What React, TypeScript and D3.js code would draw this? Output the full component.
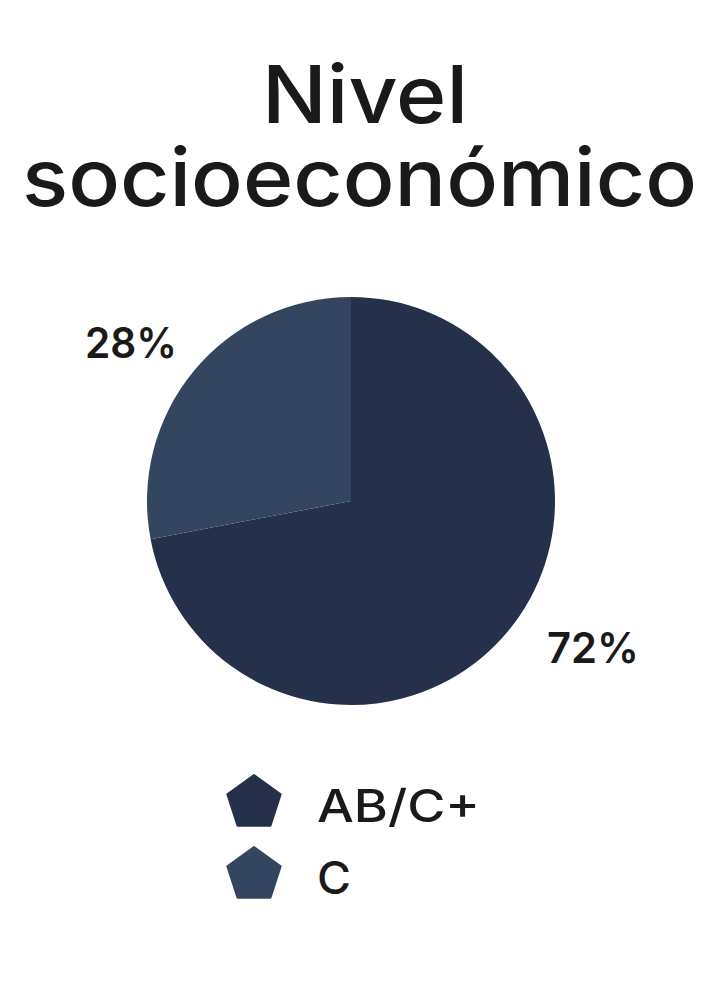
import * as d3 from "d3";
import React, { useEffect, useRef } from "react";

// chart data
const categories = ["AB/C+", "C"];
const shares = [72, 28];
const colors = ["#25314a", "#34465f"];
const titleLines = ["Nivel", "socioeconómico"];

const WIDTH = 719;
const HEIGHT = 992;

const App: React.FC = () => {
    const svgRef = useRef<SVGSVGElement>(null);

    useEffect(() => {
        if (!svgRef.current) return;
        const svg = d3.select(svgRef.current);
        svg.selectAll("*").remove();

        svg.append("rect")
            .attr("width", WIDTH)
            .attr("height", HEIGHT)
            .attr("fill", "#ffffff");

        const font = "Inter, 'Noto Sans', sans-serif";

        // title
        const titleSpec = [
            { x: 365, y: 123, len: 206 },
            { x: 359.5, y: 206, len: 675 },
        ];
        svg.selectAll("text.title")
            .data(titleLines)
            .join("text")
            .attr("class", "title")
            .attr("x", (_, i) => titleSpec[i].x)
            .attr("y", (_, i) => titleSpec[i].y)
            .attr("text-anchor", "middle")
            .attr("font-family", font)
            .attr("font-weight", 500)
            .attr("font-size", 80)
            .attr("fill", "#1a1a1a")
            .attr("textLength", (_, i) => titleSpec[i].len)
            .attr("lengthAdjust", "spacingAndGlyphs")
            .text((d) => d);

        // pie
        const cx = 351;
        const cy = 501;
        const radius = 204;

        const pie = d3.pie<number>().sort(null).value((d) => d);
        const arcs = pie(shares);
        const arc = d3.arc<d3.PieArcDatum<number>>().innerRadius(0).outerRadius(radius);
        const labelArc = d3.arc<d3.PieArcDatum<number>>().innerRadius(240).outerRadius(240);

        const g = svg.append("g").attr("transform", `translate(${cx},${cy})`);

        g.selectAll("path.slice")
            .data(arcs)
            .join("path")
            .attr("class", "slice")
            .attr("d", arc)
            .attr("fill", (_, i) => colors[i]);

        // labels sit a little right/up of the outer centroid
        g.append("g")
            .attr("transform", "translate(11,-6)")
            .selectAll("text.label")
            .data(arcs)
            .join("text")
            .attr("class", "label")
            .attr("x", (d) => labelArc.centroid(d)[0])
            .attr("y", (d) => labelArc.centroid(d)[1])
            .attr("dy", "0.36em")
            .attr("text-anchor", (d) =>
                (d.startAngle + d.endAngle) / 2 < Math.PI ? "start" : "end"
            )
            .attr("font-family", font)
            .attr("font-weight", 600)
            .attr("font-size", 43)
            .attr("fill", "#1a1a1a")
            .attr("textLength", 92)
            .attr("lengthAdjust", "spacingAndGlyphs")
            .text((d) => `${d.data}%`);

        // legend with pentagon markers
        const legendY = d3.scaleBand<string>().domain(categories).range([767, 911]);
        const pentR = 28;
        const pentagon = d3.range(5).map((k) => {
            const a = (k * 2 * Math.PI) / 5;
            return [pentR * Math.sin(a), -pentR * Math.cos(a)] as [number, number];
        });
        const pentPath = d3.line().curve(d3.curveLinearClosed)(pentagon) as string;

        const legend = svg.selectAll("g.legend")
            .data(categories)
            .join("g")
            .attr("class", "legend")
            .attr(
                "transform",
                (d) => `translate(0,${(legendY(d) as number) + legendY.bandwidth() / 2})`
            );

        legend.append("path")
            .attr("d", pentPath)
            .attr("transform", "translate(254,0)")
            .attr("fill", (_, i) => colors[i])
            .attr("stroke", (_, i) => colors[i])
            .attr("stroke-width", 2)
            .attr("stroke-linejoin", "round");

        legend.append("text")
            .attr("x", 317)
            .attr("y", 19)
            .attr("font-family", font)
            .attr("font-weight", 500)
            .attr("font-size", 45)
            .attr("fill", "#1a1a1a")
            .attr("textLength", (d) => (d.length > 1 ? 163 : 34))
            .attr("lengthAdjust", "spacingAndGlyphs")
            .text((d) => d);
    }, []);

    return (
        <svg
            ref={svgRef}
            width={WIDTH}
            height={HEIGHT}
            style={{ display: "block", position: "absolute", left: 0, top: 0 }}
        />
    );
};

export default App;
